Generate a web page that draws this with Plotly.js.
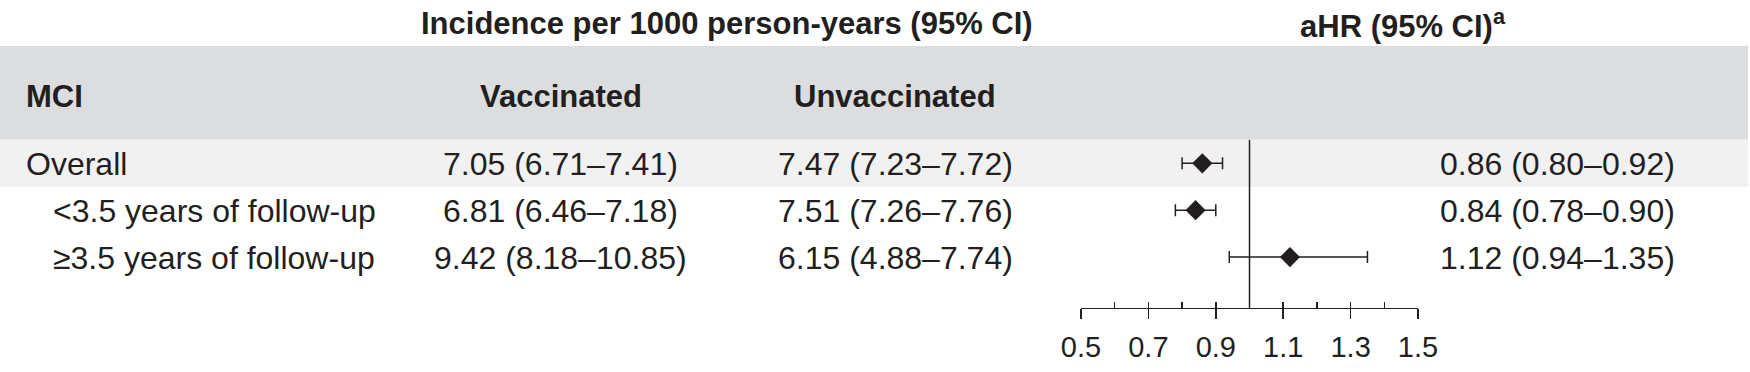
<!DOCTYPE html>
<html>
<head>
<meta charset="utf-8">
<script src="https://cdn.plot.ly/plotly-3.0.1.min.js"></script>
<style>html,body{margin:0;padding:0;background:#fff;}#chart{width:1750px;height:372px;}</style>
</head>
<body>
<div id="chart"></div>
<script>
// ---- data ----
const rowLabels = ["Overall", "&lt;3.5 years of follow-up", "≥3.5 years of follow-up"];
const rowIndent = [false, true, true];
const vaccEst = [7.05, 6.81, 9.42];
const vaccLo  = [6.71, 6.46, 8.18];
const vaccHi  = [7.41, 7.18, 10.85];
const unvaccEst = [7.47, 7.51, 6.15];
const unvaccLo  = [7.23, 7.26, 4.88];
const unvaccHi  = [7.72, 7.76, 7.74];
const hrEst = [0.86, 0.84, 1.12];
const hrLo  = [0.80, 0.78, 0.94];
const hrHi  = [0.92, 0.90, 1.35];
const xTickVals = [0.5, 0.7, 0.9, 1.1, 1.3, 1.5];
const xTickText = ["0.5", "0.7", "0.9", "1.1", "1.3", "1.5"];
const headerTitle = "Incidence per 1000 person-years (95% CI)";
const hrTitle = "aHR (95% CI)<sup>a</sup>";
const colHeaders = ["MCI", "Vaccinated", "Unvaccinated"];

// ---- layout geometry ----
const W = 1750, H = 372;
const P = 46.9, row1Px = 163.3, axisPx = 307.7;
const yv = px => 1 + (px - row1Px) / P;
const yBottom = yv(axisPx), yTop = yv(0);
const px = v => v / W;
const INK = "#231f20";
const FONT = "Liberation Sans, Arial, Helvetica, sans-serif";
const fsBold = 31, fsReg = 32;
const titleY = -1.98, headY = -0.425, rowShift = 0.02;

const fmt = (e, l, h) => e.toFixed(2) + " (" + l.toFixed(2) + "–" + h.toFixed(2) + ")";
const rows = rowLabels.map((_, i) => i + 1);

const ann = [];
const add = (text, x, y, xanchor, size) => ann.push({
  text, x: px(x), y, xanchor, xref: "paper", yref: "y", yanchor: "middle", showarrow: false,
  font: {family: FONT, size, color: INK}
});
add("<b>" + headerTitle + "</b>", 727, titleY, "center", fsBold);
add("<b>" + hrTitle + "</b>", 1403, titleY, "center", fsBold);
add("<b>" + colHeaders[0] + "</b>", 24, headY, "left", fsBold);
add("<b>" + colHeaders[1] + "</b>", 561, headY, "center", fsBold);
add("<b>" + colHeaders[2] + "</b>", 895, headY, "center", fsBold);
rowLabels.forEach((lab, i) => {
  const y = rows[i] + rowShift;
  add(lab, rowIndent[i] ? 51 : 24, y, "left", fsReg);
  add(fmt(vaccEst[i], vaccLo[i], vaccHi[i]), 560.5, y, "center", fsReg);
  add(fmt(unvaccEst[i], unvaccLo[i], unvaccHi[i]), 895, y, "center", fsReg);
  add(fmt(hrEst[i], hrLo[i], hrHi[i]), 1557, y, "center", fsReg);
});

const traces = [
  {
    type: "scatter", mode: "markers",
    x: hrEst, y: rows,
    xaxis: "x", yaxis: "y",
    marker: {symbol: "diamond", size: 15.5, color: INK, line: {width: 0}},
    error_x: {
      type: "data", symmetric: false,
      array: hrEst.map((e, i) => hrHi[i] - e),
      arrayminus: hrEst.map((e, i) => e - hrLo[i]),
      color: INK, thickness: 1.5, width: 6
    },
    cliponaxis: false,
    hoverinfo: "skip", showlegend: false
  },
  {type: "scatter", mode: "markers", x: [], y: [], xaxis: "x2", yaxis: "y", showlegend: false, hoverinfo: "skip"}
];

const layout = {
  width: W, height: H,
  margin: {l: 0, r: 0, t: 0, b: 0, pad: 0},
  paper_bgcolor: "#ffffff", plot_bgcolor: "rgba(0,0,0,0)",
  showlegend: false,
  font: {family: FONT, color: INK},
  xaxis: {
    domain: [1081 / W, 1418 / W], range: [0.5, 1.5], anchor: "y",
    showline: true, linecolor: INK, linewidth: 1.5,
    ticks: "outside", ticklen: 10, tickwidth: 1.5, tickcolor: INK,
    tickvals: xTickVals, ticktext: xTickText,
    tickfont: {family: FONT, size: 29, color: INK},
    ticklabelstandoff: 3,
    showgrid: false, zeroline: false, fixedrange: true
  },
  xaxis2: {
    domain: [1081 / W, 1418 / W], range: [0.5, 1.5], anchor: "y", overlaying: "x",
    showline: false, ticks: "inside", ticklen: 6, tickwidth: 1.5, tickcolor: INK,
    dtick: 0.1, tick0: 0.5, showticklabels: false,
    showgrid: false, zeroline: false, fixedrange: true
  },
  yaxis: {
    domain: [1 - axisPx / H, 1], range: [yBottom, yTop],
    visible: false, showgrid: false, zeroline: false, fixedrange: true
  },
  shapes: [
    {type: "rect", xref: "paper", yref: "y", x0: 0, x1: 1748 / W, y0: -1.5, y1: 0.5,
     fillcolor: "#dcdddf", line: {width: 0}, layer: "below"},
    {type: "rect", xref: "paper", yref: "y", x0: 0, x1: 1748 / W, y0: 0.5, y1: 1.5,
     fillcolor: "#f1f1f1", line: {width: 0}, layer: "below"},
    {type: "line", xref: "x", yref: "y", x0: 1, x1: 1, y0: 0.5, y1: yBottom,
     line: {color: INK, width: 1.5}, layer: "above"}
  ],
  annotations: ann
};

Plotly.newPlot("chart", traces, layout, {staticPlot: true, displayModeBar: false});
</script>
</body>
</html>
